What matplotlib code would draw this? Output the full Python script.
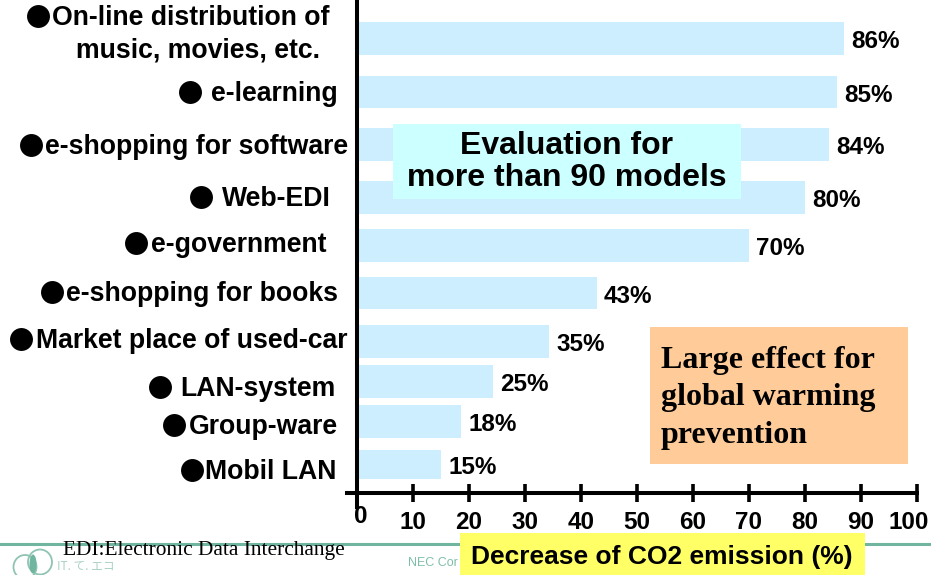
import matplotlib
matplotlib.use("Agg")
import matplotlib.pyplot as plt
from matplotlib.patches import Rectangle, Ellipse
from matplotlib.transforms import Affine2D

W, H = 931, 575
SANS = "Liberation Sans"
SERIF = "Liberation Serif"

bar_values = [87, 85.7, 84.3, 80, 70, 42.8, 34.3, 24.3, 18.6, 15]
value_labels = ["86%", "85%", "84%", "80%", "70%", "43%", "35%", "25%", "18%", "15%"]
bar_centers = [38.5, 91.5, 144.5, 197, 245, 293, 341, 381, 421, 464]
bar_heights = [33, 32, 33, 33, 33, 32, 33, 33, 33, 29]
x_ticks = list(range(0, 101, 10))

# (text, right-edge px, centre-y px, bullet-x px)
label_rows = [
    ("On-line distribution of", 329, 16, 38),
    ("music, movies, etc.", 320, 48, None),
    ("e-learning", 338, 92, 190),
    ("e-shopping for software", 348, 145, 31),
    ("Web-EDI", 331, 197, 201),
    ("e-government", 326, 243, 136),
    ("e-shopping for books", 338, 292, 52),
    ("Market place of used-car", 347, 339, 21),
    ("LAN-system", 336, 387, 160),
    ("Group-ware", 338, 425, 174),
    ("Mobil LAN", 336, 470, 192),
]

fig = plt.figure(figsize=(W / 100, H / 100), dpi=100)
fig.patch.set_facecolor("white")

# pixel overlay (y down) behind / above the chart
px = fig.add_axes([0, 0, 1, 1], zorder=1)
px.set_xlim(0, W)
px.set_ylim(H, 0)
px.axis("off")

# footer
px.plot([0, W], [543.5, 543.5], color="#6fb5a0", lw=2.2, zorder=1)
px.add_patch(Ellipse((25, 567), 23, 24, fill=False, ec="#8fc4b4", lw=1.3, zorder=1))
px.add_patch(Ellipse((40, 562), 24, 25, fill=False, ec="#8fc4b4", lw=1.3, zorder=1))
px.add_patch(Ellipse((33, 564), 7, 19, fc="#6fb5a0", ec="none", zorder=1))
px.text(57, 566, "IT. て. エコ", family=["Noto Sans CJK JP", "DejaVu Sans"], fontsize=8.5,
        color="#a9d2c6", va="center", ha="left", zorder=1)
px.text(408, 563.5, "NEC Cor", family=SANS, fontsize=9, color="#7fbfaa",
        va="center", ha="left", zorder=1)
px.text(63, 550, "EDI:Electronic Data Interchange", family=SERIF, fontsize=15.4,
        color="black", va="center", ha="left", zorder=6)

# chart axes: x=0 at 357 px, x=100 at 917 px; y in pixels, downward
ax = fig.add_axes([357 / W, 1 - 493 / H, 560 / W, 493 / H], zorder=2)
ax.patch.set_alpha(0)
ax.set_xlim(0, 100)
ax.set_ylim(493, 0)
ax.barh(bar_centers, bar_values, height=bar_heights, color="#cceeff", zorder=1)
for v, lab, y in zip(bar_values, value_labels, bar_centers):
    ax.annotate(lab, (v, y), xytext=(7, -3.5), textcoords="offset pixels", family=SANS,
                fontweight="bold", fontsize=17.5, va="center", ha="left", zorder=3)

for s in ("top", "right"):
    ax.spines[s].set_visible(False)
ax.spines["left"].set_linewidth(2.9)
ax.spines["bottom"].set_linewidth(2.9)
ax.spines["left"].set_bounds(493, 0)
ax.set_yticks([])
ax.set_xticks(x_ticks)
ax.set_xticklabels([str(t) for t in x_ticks], family=SANS, fontweight="bold", fontsize=17.5)
ax.tick_params(axis="x", direction="inout", length=12.5, width=2.6, pad=6.5)
tl = ax.get_xticklabels()
tl[0].set_transform(tl[0].get_transform() + Affine2D().translate(4, 6))
tl[-1].set_transform(tl[-1].get_transform() + Affine2D().translate(-8, 0))
# axis overhangs
ax.plot([-1.8, 0], [493, 493], color="black", lw=2.9, clip_on=False, zorder=4)
ax.plot([0, 0], [493, 507], color="black", lw=2.9, clip_on=False, zorder=4)

# overlay for text and boxes
top = fig.add_axes([0, 0, 1, 1], zorder=3)
top.set_xlim(0, W)
top.set_ylim(H, 0)
top.axis("off")

for text, right, cy, bx in label_rows:
    top.text(right, cy + 2, text, family=SANS, fontweight="bold", fontsize=19.2,
             va="center", ha="right", color="black")
    if bx is not None:
        top.plot([bx], [cy], marker="o", ms=16.5, color="black", mec="none", ls="none")

top.add_patch(Rectangle((393, 124), 348, 75, fc="#ccffff", ec="none"))
top.text(567, 162, "Evaluation for\nmore than 90 models", family=SANS, fontweight="bold",
         fontsize=23, ha="center", va="center", linespacing=1.06)

top.add_patch(Rectangle((650, 327), 258, 137, fc="#ffcc99", ec="none"))
top.text(661, 398, "Large effect for\nglobal warming\nprevention", family=SERIF, fontweight="bold",
         fontsize=23, ha="left", va="center", linespacing=1.39)

top.add_patch(Rectangle((460, 533), 405, 42, fc="#ffff66", ec="none"))
top.text(662, 557, "Decrease of CO2 emission (%)", family=SANS, fontweight="bold",
         fontsize=19, ha="center", va="center")

fig.savefig("out.png", dpi=100)
